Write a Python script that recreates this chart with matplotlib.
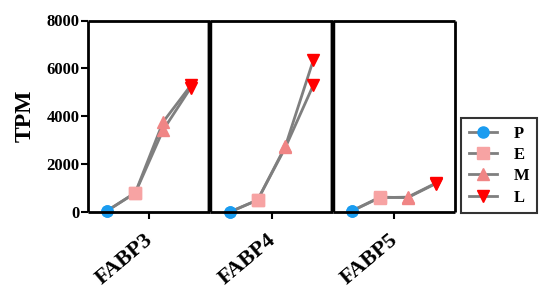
import matplotlib
matplotlib.use("Agg")
import matplotlib.pyplot as plt
from matplotlib.lines import Line2D

genes = ["FABP3", "FABP4", "FABP5"]
stages = ["P", "E", "M", "L"]
# two replicate series per gene, values for P, E, M, L (TPM)
rep1 = {"FABP3": [60, 800, 3760, 5290],
        "FABP4": [0, 500, 2750, 6330],
        "FABP5": [50, 600, 620, 1200]}
rep2 = {"FABP3": [60, 800, 3420, 5200],
        "FABP4": [0, 500, 2700, 5290],
        "FABP5": [50, 620, 600, 1180]}
yticks = [0, 2000, 4000, 6000, 8000]

colors = ["#1a9cf0", "#f7a3a3", "#f08585", "#ff0000"]
markers = ["o", "s", "^", "v"]
msizes = [8, 8, 8.5, 8.5]
xpos = [-1.5, -0.5, 0.5, 1.5]

plt.rcParams['font.family'] = ['Liberation Serif', 'DejaVu Serif']
plt.rcParams['font.weight'] = 'bold'

fig = plt.figure(figsize=(5.5, 2.94), dpi=100)
left, right, bottom, top = 88/550, 455/550, 1-212/294, 1-20.5/294
w = (right-left)/3
axes = [fig.add_axes([left+i*w, bottom, w, top-bottom]) for i in range(3)]

for i, (ax, g) in enumerate(zip(axes, genes)):
    for rep in (rep1, rep2):
        vals = rep[g]
        ax.plot(xpos, vals, color="#7f7f7f", lw=2, zorder=2, clip_on=False)
        for x, v, c, m, s in zip(xpos, vals, colors, markers, msizes):
            ax.plot([x], [v], marker=m, color=c, ms=s, mec=c, lw=0,
                    zorder=3, clip_on=False)
    ax.set_xlim(-2.2, 2.2)
    ax.set_ylim(0, 8000)
    ax.set_xticks([0])
    ax.set_xticklabels([])
    ax.annotate(g, xy=(0, 0), xycoords=('data', 'axes fraction'),
                xytext=(-5, -18), textcoords='offset pixels',
                rotation=40, ha='right', va='top', rotation_mode='anchor',
                fontsize=16, fontweight='bold', annotation_clip=False)
    for sp in ax.spines.values():
        sp.set_linewidth(2.0)
        sp.set_zorder(5)
        sp.set_capstyle('butt')
    if i > 0:
        ax.spines['left'].set_linewidth(3.2)
    if i < 2:
        ax.spines['right'].set_linewidth(3.2)
    ax.tick_params(axis='x', length=5, width=1.5, direction='out', pad=8)
    if i == 0:
        ax.set_yticks(yticks)
        ax.set_yticklabels([str(t) for t in yticks], fontsize=12, fontweight='bold')
        ax.tick_params(axis='y', length=5, width=1.5, direction='out', pad=1)
        ax.set_ylabel("TPM", fontsize=17, fontweight='bold', labelpad=8)
    else:
        ax.set_yticks([])

handles = [Line2D([0], [0], color="#7f7f7f", lw=2, marker=m, mfc=c, mec=c, ms=s)
           for m, c, s in zip(markers, colors, msizes)]
leg = fig.legend(handles, stages, loc='upper left',
                 bbox_to_anchor=(461/550, 1-118/294), frameon=True,
                 fancybox=False, edgecolor='black',
                 prop={'weight': 'bold', 'size': 12}, handlelength=1.7,
                 labelspacing=0.32, borderpad=0.45, handletextpad=1.0,
                 borderaxespad=0)
leg.get_frame().set_linewidth(1.5)

fig.savefig("out.png", dpi=100, facecolor='white')
